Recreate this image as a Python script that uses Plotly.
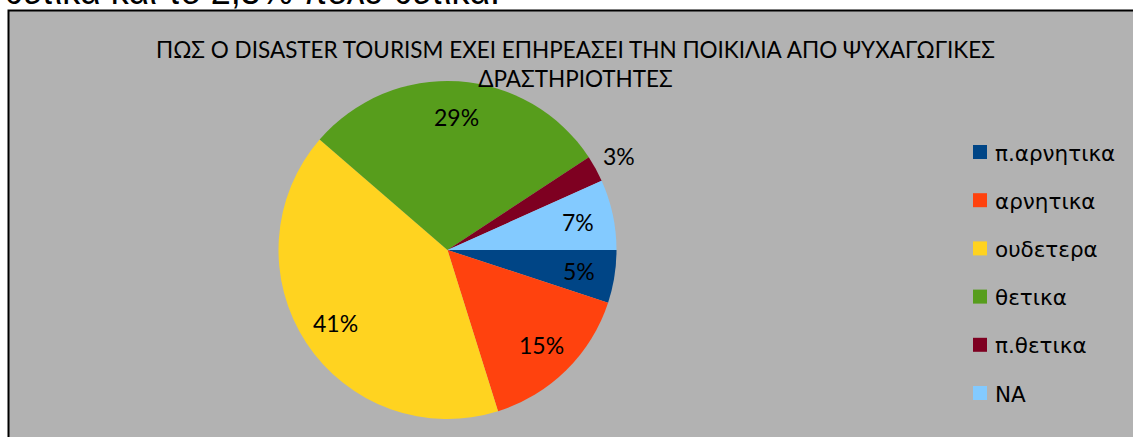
import math
import plotly.graph_objects as go

# Survey answers: effect of disaster tourism on variety of leisure activities
categories = ["π.αρνητικα", "αρνητικα", "ουδετερα", "θετικα", "π.θετικα", "NA"]
counts = [6, 18, 49, 35, 3, 8]
colors = ["#004586", "#ff420e", "#ffd320", "#579d1c", "#7e0021", "#83caff"]
label_outside = [False, False, False, False, True, False]

title_lines = ["ΠΩΣ Ο DISASTER TOURISM ΕΧΕΙ ΕΠΗΡΕΑΣΕΙ ΤΗΝ ΠΟΙΚΙΛΙΑ ΑΠΟ ΨΥΧΑΓΩΓΙΚΕΣ",
               "ΔΡΑΣΤΗΡΙΟΤΗΤΕΣ"]
page_text = "θετικά και το 2,5% πολύ θετικά."

W, H = 1133, 437
BG = "#b2b2b2"
LABEL_FONT = "Lato, 'Open Sans', sans-serif"
LEGEND_FONT = "'DejaVu Sans', sans-serif"


def px_x(x):
    return x / W


def px_y(y):
    return 1 - y / H


# pie placement in pixels
cx, cy, r = 447.5, 250.0, 169.0

fig = go.Figure(go.Pie(
    labels=categories,
    values=counts,
    marker=dict(colors=colors, line=dict(width=0)),
    sort=False,
    direction="clockwise",
    rotation=90,
    textinfo="none",
    hoverinfo="label+percent",
    showlegend=False,
    domain=dict(x=[px_x(cx - r), px_x(cx + r)], y=[px_y(cy + r), px_y(cy - r)]),
))

annotations = []
shapes = []

# chart area box
shapes.append(dict(type="rect", xref="paper", yref="paper", layer="below",
                   x0=px_x(8.5), x1=1.02, y0=-0.02, y1=px_y(10.5),
                   fillcolor=BG, line=dict(color="black", width=2)))

# percentage labels along each slice bisector
total = sum(counts)
cum = 0.0
for v, outside in zip(counts, label_outside):
    mid = (cum + v / 2) / total
    cum += v
    ang = 2 * math.pi * mid  # clockwise from 3 o'clock
    rr = r * (1.16 if outside else 0.79)
    lx = cx + rr * math.cos(ang)
    ly = cy + rr * math.sin(ang)
    annotations.append(dict(x=px_x(lx), y=px_y(ly), xref="paper", yref="paper",
                            text=f"{v / total:.0%}", showarrow=False,
                            xanchor="center", yanchor="middle",
                            font=dict(family=LABEL_FONT, size=23, color="black")))

# title
annotations.append(dict(x=px_x(575), y=px_y(64), xref="paper", yref="paper",
                        text="<br>".join(title_lines), showarrow=False,
                        xanchor="center", yanchor="middle", align="center",
                        font=dict(family=LABEL_FONT, size=22.5, color="black")))

# text of the page above the chart
annotations.append(dict(x=px_x(2), y=px_y(14), xref="paper", yref="paper",
                        text=page_text, showarrow=False,
                        xanchor="left", yanchor="bottom",
                        font=dict(family="'Liberation Sans', Arial, sans-serif",
                                  size=36, color="black")))

# legend
for i, (name, col) in enumerate(zip(categories, colors)):
    yc = 152 + 48.2 * i
    shapes.append(dict(type="rect", xref="paper", yref="paper",
                       x0=px_x(973), x1=px_x(987), y0=px_y(yc + 7), y1=px_y(yc - 7),
                       fillcolor=col, line=dict(width=0)))
    annotations.append(dict(x=px_x(993), y=px_y(yc + 1), xref="paper", yref="paper",
                            text=name, showarrow=False, xanchor="left", yanchor="middle",
                            font=dict(family=LEGEND_FONT, size=21.5, color="black")))

fig.update_layout(
    width=W, height=H,
    margin=dict(l=0, r=0, t=0, b=0),
    paper_bgcolor="white",
    plot_bgcolor="white",
    shapes=shapes,
    annotations=annotations,
)

fig.write_html("out.html")
